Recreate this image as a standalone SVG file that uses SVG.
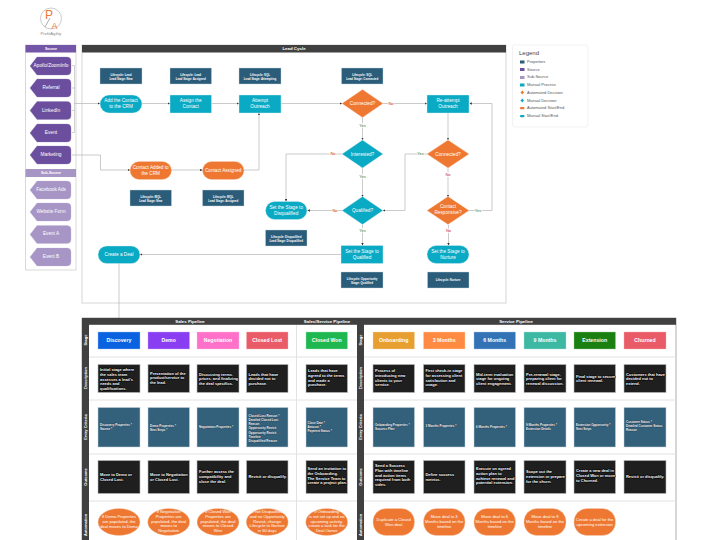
<svg xmlns="http://www.w3.org/2000/svg" width="720" height="540" viewBox="0 0 720 540">
<defs>
<marker id="ah" markerUnits="userSpaceOnUse" markerWidth="3" markerHeight="3" refX="2.4" refY="1.2" orient="auto"><path d="M0,0L2.4,1.2L0,2.4Z" fill="#333"/></marker>
</defs>
<style>
text{font-family:"Liberation Sans",Arial,sans-serif;text-anchor:middle}
.lbl{font-size:4.7px;fill:#fff}
.src{font-size:4.8px;fill:#fff}
.sub{font-size:4.7px;fill:#fff}
.proc{fill:#0aa9c4;stroke:#d8eef2;stroke-width:.4}
.auto{fill:#ee7831;stroke:#f6d2bb;stroke-width:.4}
.prop{fill:#2b5d7b;stroke:#c9d6de;stroke-width:.4}
.ptx{font-size:2.9px;fill:#fff;font-weight:700}
.hdr{fill:#404040}
.htx{font-size:4.4px;fill:#fff;font-weight:700}
.pur{fill:#6b4f9e;stroke:#8d78b5;stroke-width:.3}
.lpu{fill:#a795c6;stroke:#c5b9dc;stroke-width:.3}
.con{fill:none;stroke:#b4b4b4;stroke-width:.7;marker-end:url(#ah)}
.con0{fill:none;stroke:#b4b4b4;stroke-width:.6}
.y{font-size:4px;fill:#2e7d32;paint-order:stroke;stroke:#fff;stroke-width:1.4}
.n{font-size:4px;fill:#c62828;paint-order:stroke;stroke:#fff;stroke-width:1.4}
.leg{font-size:4px;fill:#555;text-anchor:start}
.st{font-size:5.2px;font-weight:700;fill:#fff}
.cell{fill:#1f1f1f;stroke:#b9b9b9;stroke-width:.6}
.ent{fill:#33617c;stroke:#c4d2da;stroke-width:.5}
.dtx{font-size:3.95px;font-weight:700;fill:#fff;text-anchor:start;paint-order:stroke;stroke:#000;stroke-width:.8}
.etx{font-size:3px;font-weight:700;fill:#fff;text-anchor:start;paint-order:stroke;stroke:#123;stroke-width:.3}
.atx{font-size:4.1px;fill:#fff}
.rot{font-size:4px;font-weight:700;fill:#fff}
.sep{stroke:#e2e2e2;stroke-width:1}
</style>
<rect width="720" height="540" fill="#fff"/>

<g id="logo">
<circle cx="51" cy="18.500" r="10.500" fill="#fff" stroke="#bcbcbc" stroke-width=".8"/>
<path d="M45,27L50,18" stroke="#777" stroke-width=".6" fill="none"/>
<text x="49" y="18.500" style="font-size:12px;fill:#ee7831">P</text>
<text x="54.500" y="28.500" style="font-size:9px;fill:#ee7831">A</text>
<text x="51" y="35" style="font-size:4.2px;fill:#888">ProfitAgility</text>
</g>

<g id="source-panel">
<rect x="25.500" y="45" width="50.500" height="225" fill="#fff" stroke="#c8c8c8" stroke-width=".7"/>
<rect x="25.500" y="45" width="50.500" height="7.500" fill="#7356a8"/>
<text x="51" y="50" class="ptx" style="font-size:3.6px">Source</text>
<rect x="25.500" y="169" width="50.500" height="8" fill="#a795c6"/>
<text x="51" y="174.300" class="ptx" style="font-size:3.6px">Sub-Source</text>
</g>

<g id="source-apollo"><path class="pur" d="M30,66L37,57H67a4,4 0 0 1 4,4V71a4,4 0 0 1-4,4H37Z"/><text x="51" y="67" class="src">Apollo/ZoomInfo</text></g>
<g id="source-referral"><path class="pur" d="M30,88L37,79H67a4,4 0 0 1 4,4V93a4,4 0 0 1-4,4H37Z"/><text x="51" y="89" class="src">Referral</text></g>
<g id="source-linkedin"><path class="pur" d="M30,110.500L37,101.500H67a4,4 0 0 1 4,4V115.500a4,4 0 0 1-4,4H37Z"/><text x="51" y="111.500" class="src">LinkedIn</text></g>
<g id="source-event"><path class="pur" d="M30,133L37,124H67a4,4 0 0 1 4,4V138a4,4 0 0 1-4,4H37Z"/><text x="51" y="133.500" class="src">Event</text></g>
<g id="source-marketing"><path class="pur" d="M30,155L37,146H67a4,4 0 0 1 4,4V160a4,4 0 0 1-4,4H37Z"/><text x="51" y="155.700" class="src">Marketing</text></g>
<g id="sub-facebook"><path class="lpu" d="M30,190L37,181H67a4,4 0 0 1 4,4V195a4,4 0 0 1-4,4H37Z"/><text x="51" y="190.500" class="sub">Facebook Ads</text></g>
<g id="sub-website"><path class="lpu" d="M30,212L37,203H67a4,4 0 0 1 4,4V217a4,4 0 0 1-4,4H37Z"/><text x="51" y="213" class="sub">Website Form</text></g>
<g id="sub-event-a"><path class="lpu" d="M30,234.500L37,225.500H67a4,4 0 0 1 4,4V239.500a4,4 0 0 1-4,4H37Z"/><text x="51" y="235.300" class="sub">Event A</text></g>
<g id="sub-event-b"><path class="lpu" d="M30,257L37,248H67a4,4 0 0 1 4,4V262a4,4 0 0 1-4,4H37Z"/><text x="51" y="257.500" class="sub">Event B</text></g>

<g id="lead-frame">
<rect x="82" y="45" width="424" height="258" fill="#fff" stroke="#dcdcdc" stroke-width="1.200"/>
<rect x="82" y="45" width="424" height="7.500" class="hdr"/>
<text x="294" y="50.200" class="htx">Lead Cycle</text>
</g>

<g id="connectors">
<path class="con0" d="M72,65.500H74.500V132.500H72M72,88H74.500M72,110.500H74.500"/>
<path class="con" d="M74.500,103.500H100"/>
<path class="con" d="M72,155H100.500V170H130"/>
<path class="con" d="M142,103.500H170"/>
<path class="con" d="M211.500,103.500H239"/>
<path class="con" d="M171,170H202.500"/>
<path class="con" d="M244,170H259V113"/>
<path class="con" d="M281,103.500H342"/>
<path class="con" d="M383,103.500H427"/>
<path class="con" d="M362.500,117V140"/>
<path class="con" d="M362.500,168V197"/>
<path class="con" d="M342,154H286V201.500"/>
<path class="con" d="M342,210.500H307.500"/>
<path class="con" d="M362.500,224.500V245.500"/>
<path class="con" d="M427,154H405V210.500H383"/>
<path class="con" d="M448,113V140"/>
<path class="con" d="M448,168V197"/>
<path class="con" d="M448.500,225V245.500"/>
<path class="con" d="M469,210.500H492V103.500H469.500"/>
<path class="con" d="M341,254.500H140"/>
<path class="con" d="M119,263V332"/>
<text x="391" y="104.500" class="n">No</text>
<text x="362.500" y="126.500" class="y">Yes</text>
<text x="333" y="155" class="n">No</text>
<text x="362.500" y="178" class="y">Yes</text>
<text x="335" y="211.500" class="n">No</text>
<text x="362.500" y="232" class="y">Yes</text>
<text x="420.500" y="155" class="y">Yes</text>
<text x="448" y="175.500" class="n">No</text>
<text x="478" y="211.500" class="y">Yes</text>
<text x="448.500" y="232" class="n">No</text>
</g>

<g id="prop-lead-new"><rect x="100" y="68" width="42" height="16" class="prop"/><text x="121" y="75.500" class="ptx">Lifecycle: Lead</text><text x="121" y="79.500" class="ptx">Lead Stage: New</text></g>
<g id="prop-lead-assigned"><rect x="170" y="68" width="41.500" height="16" class="prop"/><text x="190.700" y="75.500" class="ptx">Lifecycle: Lead</text><text x="190.700" y="79.500" class="ptx">Lead Stage: Assigned</text></g>
<g id="prop-sql-attempting"><rect x="239" y="68" width="42" height="16" class="prop"/><text x="260" y="75.500" class="ptx">Lifecycle: SQL</text><text x="260" y="79.500" class="ptx">Lead Stage: Attempting</text></g>
<g id="prop-sql-connected"><rect x="341.500" y="68" width="41.500" height="16" class="prop"/><text x="362.200" y="75.500" class="ptx">Lifecycle: SQL</text><text x="362.200" y="79.500" class="ptx">Lead Stage: Connected</text></g>

<g id="add-contact"><rect x="100" y="95" width="42" height="18" rx="9" class="proc"/><text x="121" y="102" class="lbl">Add the Contact</text><text x="121" y="107.800" class="lbl">to the CRM</text></g>
<g id="assign-contact"><rect x="170" y="95" width="41.500" height="18" class="proc"/><text x="190.700" y="102" class="lbl">Assign the</text><text x="190.700" y="107.800" class="lbl">Contact</text></g>
<g id="attempt-outreach"><rect x="239" y="95" width="42" height="18" class="proc"/><text x="260" y="102" class="lbl">Attempt</text><text x="260" y="107.800" class="lbl">Outreach</text></g>
<g id="connected-1"><path d="M342,103.500L362.500,89.500L383,103.500L362.500,117.500Z" class="auto"/><text x="362.500" y="105.200" class="lbl">Connected?</text></g>
<g id="re-attempt"><rect x="427" y="95" width="42" height="18" class="proc"/><text x="448" y="102" class="lbl">Re-attempt</text><text x="448" y="107.800" class="lbl">Outreach</text></g>
<g id="interested"><path d="M342,154L362.500,140L383,154L362.500,168Z" class="proc"/><text x="362.500" y="155.700" class="lbl">Interested?</text></g>
<g id="connected-2"><path d="M427,154L448,140L469,154L448,168Z" class="auto"/><text x="448" y="155.700" class="lbl">Connected?</text></g>
<g id="qualified"><path d="M342,210.500L362.500,196.500L383,210.500L362.500,224.500Z" class="proc"/><text x="362.500" y="212.200" class="lbl">Qualified?</text></g>
<g id="responsive"><path d="M427,210.500L448,196.500L469,210.500L448,224.500Z" class="auto"/><text x="448" y="207.800" class="lbl">Contact</text><text x="448" y="213.600" class="lbl">Responsive?</text></g>
<g id="contact-added"><rect x="130" y="161.500" width="41.500" height="18" rx="9" class="auto"/><text x="150.700" y="168.800" class="lbl">Contact Added to</text><text x="150.700" y="174.600" class="lbl">the CRM</text></g>
<g id="contact-assigned"><rect x="202.500" y="161.500" width="41.500" height="18" rx="9" class="auto"/><text x="223.200" y="171.500" class="lbl">Contact Assigned</text></g>
<g id="prop-mql-new"><rect x="130" y="190" width="41.500" height="16" class="prop"/><text x="150.700" y="197.500" class="ptx">Lifecycle: MQL</text><text x="150.700" y="201.500" class="ptx">Lead Stage: New</text></g>
<g id="prop-mql-assigned"><rect x="202.500" y="190" width="41.500" height="16" class="prop"/><text x="223.200" y="197.500" class="ptx">Lifecycle: MQL</text><text x="223.200" y="201.500" class="ptx">Lead Stage: Assigned</text></g>
<g id="set-disqualified"><rect x="265.500" y="201.500" width="41.500" height="18" rx="9" class="proc"/><text x="286.200" y="208.800" class="lbl">Set the Stage to</text><text x="286.200" y="214.800" class="lbl">Disqualified</text></g>
<g id="prop-disqualified"><rect x="265.500" y="230" width="41.500" height="16" class="prop"/><text x="286.200" y="237.500" class="ptx">Lifecycle: Disqualified</text><text x="286.200" y="241.500" class="ptx">Lead Stage: Disqualified</text></g>
<g id="set-qualified"><rect x="341" y="245.500" width="42" height="18" class="proc"/><text x="362" y="253" class="lbl">Set the Stage to</text><text x="362" y="258.800" class="lbl">Qualified</text></g>
<g id="prop-opportunity"><rect x="341" y="272" width="42" height="16" class="prop"/><text x="362" y="279.500" class="ptx">Lifecycle: Opportunity</text><text x="362" y="283.500" class="ptx">Stage: Qualified</text></g>
<g id="set-nurture"><rect x="427" y="245.500" width="42" height="18" rx="9" class="proc"/><text x="448" y="253" class="lbl">Set the Stage to</text><text x="448" y="258.800" class="lbl">Nurture</text></g>
<g id="prop-nurture"><rect x="427.500" y="272" width="41.500" height="16" class="prop"/><text x="448" y="281" class="ptx">Lifecycle: Nurture</text></g>
<g id="create-deal"><rect x="98" y="246" width="42" height="17.500" rx="8.700" class="proc"/><text x="119" y="255.500" class="lbl">Create a Deal</text></g>

<g id="legend">
<rect x="512.500" y="45" width="75.500" height="82" rx="2" fill="#fff" stroke="#ececec" stroke-width=".7"/>
<text x="519" y="55" style="font-size:6px;fill:#444;text-anchor:start">Legend</text>
<rect x="520" y="60.500" width="4.500" height="3" fill="#2b5d7b"/><text x="527" y="62.800" class="leg">Properties</text>
<rect x="520" y="68" width="4.500" height="3" fill="#6b4f9e"/><text x="527" y="70.500" class="leg">Source</text>
<rect x="520" y="76" width="4.500" height="3" fill="#a795c6"/><text x="527" y="78.300" class="leg">Sub-Source</text>
<rect x="520" y="83.500" width="4.500" height="3" fill="#0aa9c4"/><text x="527" y="86" class="leg">Manual Process</text>
<path d="M520.500,92.500L522.300,90.500L524,92.500L522.300,94.500Z" fill="#ee7831"/><text x="527" y="93.800" class="leg">Automated Decision</text>
<path d="M520.500,100.500L522.300,98.500L524,100.500L522.300,102.500Z" fill="#0aa9c4"/><text x="527" y="101.500" class="leg">Manual Decision</text>
<rect x="520" y="107" width="4.500" height="2.200" rx="1" fill="#ee7831"/><text x="527" y="109.300" class="leg">Automated Start/End</text>
<rect x="520" y="115" width="4.500" height="2.200" rx="1" fill="#0aa9c4"/><text x="527" y="117" class="leg">Manual Start/End</text>
</g>

<g id="pipeline-frame">
<rect x="82" y="318" width="594" height="230" fill="#fff" stroke="#777" stroke-width=".6"/>
<path class="sep" d="M89,357H676M89,400H676M89,454H676M89,501H676"/>
<path d="M296.500,325V540" stroke="#e2e2e2" stroke-width="1"/>
<rect x="82" y="318" width="594" height="6.800" class="hdr"/>
<rect x="82" y="318" width="7" height="222" class="hdr"/>
<rect x="357" y="318" width="7" height="222" class="hdr"/>
<text x="190" y="322.900" class="htx">Sales Pipeline</text>
<text x="327" y="322.900" class="htx">Sales/Service Pipeline</text>
<text x="516" y="322.900" class="htx">Service Pipeline</text>
<text transform="translate(87,340) rotate(-90)" class="rot">Stage</text>
<text transform="translate(87,378) rotate(-90)" class="rot">Description</text>
<text transform="translate(87,427) rotate(-90)" class="rot">Entry Criteria</text>
<text transform="translate(87,477) rotate(-90)" class="rot">Outcome</text>
<text transform="translate(87,525) rotate(-90)" class="rot">Automation</text>
<text transform="translate(362,340) rotate(-90)" class="rot">Stage</text>
<text transform="translate(362,378) rotate(-90)" class="rot">Description</text>
<text transform="translate(362,427) rotate(-90)" class="rot">Entry Criteria</text>
<text transform="translate(362,477) rotate(-90)" class="rot">Outcome</text>
<text transform="translate(362,525) rotate(-90)" class="rot">Automation</text>
</g>

<g id="stage-discovery"><rect x="98" y="332" width="42" height="17" fill="#0a62e0" stroke="#9fc0f0" stroke-width=".4"/><text x="119" y="342.300" class="st">Discovery</text></g>
<g id="stage-demo"><rect x="148" y="332" width="41.500" height="17" fill="#8a3ef2" stroke="#c7a8f5" stroke-width=".4"/><text x="168.700" y="342.300" class="st">Demo</text></g>
<g id="stage-negotiation"><rect x="197" y="332" width="42" height="17" fill="#ff70c8" stroke="#ffc0e6" stroke-width=".4"/><text x="218" y="342.300" class="st">Negotiation</text></g>
<g id="stage-closed-lost"><rect x="246.500" y="332" width="41.500" height="17" fill="#e95b66" stroke="#f4b3b8" stroke-width=".4"/><text x="267.200" y="342.300" class="st">Closed Lost</text></g>
<g id="stage-closed-won"><rect x="306" y="332" width="41.500" height="17" fill="#1fb750" stroke="#a5e3b9" stroke-width=".4"/><text x="326.700" y="342.300" class="st">Closed Won</text></g>
<g id="stage-onboarding"><rect x="373" y="332" width="41.500" height="17" fill="#e89f31" stroke="#f5d8a8" stroke-width=".4"/><text x="393.700" y="342.300" class="st">Onboarding</text></g>
<g id="stage-3-months"><rect x="423.500" y="332" width="41.500" height="17" fill="#ff8b42" stroke="#ffd0b0" stroke-width=".4"/><text x="444.200" y="342.300" class="st">3 Months</text></g>
<g id="stage-6-months"><rect x="474" y="332" width="41.500" height="17" fill="#3373b5" stroke="#a8c4e0" stroke-width=".4"/><text x="494.700" y="342.300" class="st">6 Months</text></g>
<g id="stage-9-months"><rect x="524" y="332" width="42" height="17" fill="#3db9a3" stroke="#aee2d8" stroke-width=".4"/><text x="545" y="342.300" class="st">9 Months</text></g>
<g id="stage-extension"><rect x="574" y="332" width="41.500" height="17" fill="#1a8012" stroke="#a0cc9c" stroke-width=".4"/><text x="594.700" y="342.300" class="st">Extension</text></g>
<g id="stage-churned"><rect x="624" y="332" width="42" height="17" fill="#e95b66" stroke="#f4b3b8" stroke-width=".4"/><text x="645" y="342.300" class="st">Churned</text></g>

<g id="descriptions">
<rect x="98" y="364.500" width="42" height="28" class="cell"/><text x="100" y="371" class="dtx">Initial stage where</text><text x="100" y="375.800" class="dtx">the sales team</text><text x="100" y="380.600" class="dtx">assesses a lead's</text><text x="100" y="385.400" class="dtx">needs and</text><text x="100" y="390.200" class="dtx">qualifications.</text>
<rect x="148" y="364.500" width="41.500" height="28" class="cell"/><text x="150" y="374.500" class="dtx">Presentation of the</text><text x="150" y="379.300" class="dtx">product/service to</text><text x="150" y="384.100" class="dtx">the lead.</text>
<rect x="197" y="364.500" width="42" height="28" class="cell"/><text x="199" y="375.500" class="dtx">Discussing terms,</text><text x="199" y="380.300" class="dtx">prices, and finalizing</text><text x="199" y="385.100" class="dtx">the deal specifics.</text>
<rect x="246.500" y="364.500" width="41.500" height="28" class="cell"/><text x="248.500" y="375.500" class="dtx">Leads that have</text><text x="248.500" y="380.300" class="dtx">decided not to</text><text x="248.500" y="385.100" class="dtx">purchase.</text>
<rect x="306" y="364.500" width="41.500" height="28" class="cell"/><text x="308" y="372" class="dtx">Leads that have</text><text x="308" y="376.800" class="dtx">agreed to the terms</text><text x="308" y="381.600" class="dtx">and made a</text><text x="308" y="386.400" class="dtx">purchase.</text>
<rect x="373" y="364.500" width="41.500" height="28" class="cell"/><text x="375" y="372" class="dtx">Process of</text><text x="375" y="376.800" class="dtx">introducing new</text><text x="375" y="381.600" class="dtx">clients to your</text><text x="375" y="386.400" class="dtx">service.</text>
<rect x="423.500" y="364.500" width="41.500" height="28" class="cell"/><text x="425.500" y="372" class="dtx">First check-in stage</text><text x="425.500" y="376.800" class="dtx">for assessing client</text><text x="425.500" y="381.600" class="dtx">satisfaction and</text><text x="425.500" y="386.400" class="dtx">usage.</text>
<rect x="474" y="364.500" width="41.500" height="28" class="cell"/><text x="476" y="375.500" class="dtx">Mid-term evaluation</text><text x="476" y="380.300" class="dtx">stage for ongoing</text><text x="476" y="385.100" class="dtx">client engagement.</text>
<rect x="524" y="364.500" width="42" height="28" class="cell"/><text x="526" y="375.500" class="dtx">Pre-renewal stage,</text><text x="526" y="380.300" class="dtx">preparing client for</text><text x="526" y="385.100" class="dtx">renewal discussion.</text>
<rect x="574" y="364.500" width="41.500" height="28" class="cell"/><text x="576" y="377.500" class="dtx">Final stage to secure</text><text x="576" y="382.300" class="dtx">client renewal.</text>
<rect x="624" y="364.500" width="42" height="28" class="cell"/><text x="626" y="375.500" class="dtx">Customers that have</text><text x="626" y="380.300" class="dtx">decided not to</text><text x="626" y="385.100" class="dtx">extend.</text>
</g>

<g id="entry-criteria">
<rect x="98" y="407.500" width="42" height="39.500" class="ent"/><text x="100" y="425.500" class="etx">Discovery Properties *</text><text x="100" y="429.500" class="etx">Source *</text>
<rect x="148" y="407.500" width="41.500" height="39.500" class="ent"/><text x="150" y="426.500" class="etx">Demo Properties *</text><text x="150" y="430.500" class="etx">Next Steps *</text>
<rect x="197" y="407.500" width="42" height="39.500" class="ent"/><text x="199" y="428" class="etx">Negotiation Properties *</text>
<rect x="246.500" y="407.500" width="41.500" height="39.500" class="ent"/><text x="248.500" y="416.500" class="etx">Closed Lost Reason *</text><text x="248.500" y="420.800" class="etx">Detailed Closed Lost</text><text x="248.500" y="425.100" class="etx">Reason</text><text x="248.500" y="429.400" class="etx">Opportunity Revisit</text><text x="248.500" y="433.700" class="etx">Opportunity Revisit</text><text x="248.500" y="438" class="etx">Timeline</text><text x="248.500" y="442.300" class="etx">Disqualified Reason</text>
<rect x="306" y="407.500" width="41.500" height="39.500" class="ent"/><text x="307.500" y="424" class="etx">Close Date *</text><text x="307.500" y="428" class="etx">Amount *</text><text x="307.500" y="432" class="etx">Payment Status *</text>
<rect x="373" y="407.500" width="41.500" height="39.500" class="ent"/><text x="375" y="426" class="etx">Onboarding Properties *</text><text x="375" y="430" class="etx">Success Plan</text>
<rect x="423.500" y="407.500" width="41.500" height="39.500" class="ent"/><text x="425.500" y="426.500" class="etx">3 Months Properties *</text>
<rect x="474" y="407.500" width="41.500" height="39.500" class="ent"/><text x="476" y="427.500" class="etx">6 Months Properties *</text>
<rect x="524" y="407.500" width="42" height="39.500" class="ent"/><text x="526" y="425.500" class="etx">9 Months Properties *</text><text x="526" y="429.500" class="etx">Extension Details</text>
<rect x="574" y="407.500" width="41.500" height="39.500" class="ent"/><text x="576" y="425.500" class="etx">Extension Opportunity *</text><text x="576" y="429.500" class="etx">Next Steps</text>
<rect x="624" y="407.500" width="42" height="39.500" class="ent"/><text x="626" y="423" class="etx">Customer Status *</text><text x="626" y="427" class="etx">Detailed Customer Status</text><text x="626" y="431" class="etx">Reason</text>
</g>

<g id="outcomes">
<rect x="98" y="460.500" width="42" height="33" class="cell"/><text x="100" y="476" class="dtx">Move to Demo or</text><text x="100" y="480.800" class="dtx">Closed Lost.</text>
<rect x="148" y="460.500" width="41.500" height="33" class="cell"/><text x="150" y="476" class="dtx">Move to Negotiation</text><text x="150" y="480.800" class="dtx">or Closed Lost.</text>
<rect x="197" y="460.500" width="42" height="33" class="cell"/><text x="199" y="473" class="dtx">Further assess the</text><text x="199" y="477.800" class="dtx">compatibility and</text><text x="199" y="482.600" class="dtx">close the deal.</text>
<rect x="246.500" y="460.500" width="41.500" height="33" class="cell"/><text x="248.500" y="477.500" class="dtx">Revisit or disqualify.</text>
<rect x="306" y="460.500" width="41.500" height="33" class="cell"/><text x="307.500" y="470" class="dtx">Send an invitation to</text><text x="307.500" y="474.800" class="dtx">the Onboarding.</text><text x="307.500" y="479.600" class="dtx">The Service Team to</text><text x="307.500" y="484.400" class="dtx">create a project plan.</text>
<rect x="373" y="460.500" width="41.500" height="33" class="cell"/><text x="375" y="467" class="dtx">Send a Success</text><text x="375" y="471.800" class="dtx">Plan with timeline</text><text x="375" y="476.600" class="dtx">and action items</text><text x="375" y="481.400" class="dtx">required from both</text><text x="375" y="486.200" class="dtx">sides.</text>
<rect x="423.500" y="460.500" width="41.500" height="33" class="cell"/><text x="425.500" y="476" class="dtx">Define success</text><text x="425.500" y="480.800" class="dtx">metrics.</text>
<rect x="474" y="460.500" width="41.500" height="33" class="cell"/><text x="476" y="470" class="dtx">Execute on agreed</text><text x="476" y="474.800" class="dtx">action plan to</text><text x="476" y="479.600" class="dtx">achieve renewal and</text><text x="476" y="484.400" class="dtx">potential extension.</text>
<rect x="524" y="460.500" width="42" height="33" class="cell"/><text x="526" y="473" class="dtx">Scope out the</text><text x="526" y="477.800" class="dtx">extension or prepare</text><text x="526" y="482.600" class="dtx">for the churn.</text>
<rect x="574" y="460.500" width="41.500" height="33" class="cell"/><text x="576" y="472" class="dtx">Create a new deal in</text><text x="576" y="476.800" class="dtx">Closed Won or move</text><text x="576" y="481.600" class="dtx">to Churned.</text>
<rect x="624" y="460.500" width="42" height="33" class="cell"/><text x="626" y="477.500" class="dtx">Revisit or disqualify.</text>
</g>

<g id="automations">
<ellipse cx="119" cy="522" rx="21" ry="13.500" class="auto"/><text x="119" y="518" class="atx">If Demo Properties</text><text x="119" y="522.800" class="atx">are populated, the</text><text x="119" y="527.600" class="atx">deal moves to Demo</text>
<ellipse cx="168.700" cy="522" rx="21" ry="13.500" class="auto"/><text x="168.700" y="513" class="atx">If Negotiation</text><text x="168.700" y="517.800" class="atx">Properties are</text><text x="168.700" y="522.600" class="atx">populated, the deal</text><text x="168.700" y="527.400" class="atx">moves to</text><text x="168.700" y="532.200" class="atx">Negotiation</text>
<ellipse cx="218" cy="522" rx="21" ry="13.500" class="auto"/><text x="218" y="513" class="atx">If Closed Won</text><text x="218" y="517.800" class="atx">Properties are</text><text x="218" y="522.600" class="atx">populated, the deal</text><text x="218" y="527.400" class="atx">moves to Closed</text><text x="218" y="532.200" class="atx">Won</text>
<ellipse cx="267.200" cy="522" rx="21" ry="13.500" class="auto"/><text x="267.200" y="513" class="atx">If not Disqualified</text><text x="267.200" y="517.800" class="atx">and no Opportunity</text><text x="267.200" y="522.600" class="atx">Revisit, change</text><text x="267.200" y="527.400" class="atx">Lifecycle to Nurture</text><text x="267.200" y="532.200" class="atx">in 60 days</text>
<ellipse cx="326.700" cy="522" rx="21" ry="13.500" class="auto"/><text x="326.700" y="513" class="atx">If Onboarding</text><text x="326.700" y="517.800" class="atx">is not set up and no</text><text x="326.700" y="522.600" class="atx">upcoming activity,</text><text x="326.700" y="527.400" class="atx">create a task for the</text><text x="326.700" y="532.200" class="atx">Deal Owner</text>
<rect x="373" y="508.500" width="41.500" height="27" rx="13" class="auto"/><text x="393.700" y="520.500" class="atx">Duplicate a Closed</text><text x="393.700" y="525.500" class="atx">Won deal</text>
<rect x="423.500" y="508.500" width="41.500" height="27" rx="13" class="auto"/><text x="444.200" y="518" class="atx">Move deal to 3</text><text x="444.200" y="522.800" class="atx">Months based on the</text><text x="444.200" y="527.600" class="atx">timeline</text>
<rect x="474" y="508.500" width="41.500" height="27" rx="13" class="auto"/><text x="494.700" y="518" class="atx">Move deal to 6</text><text x="494.700" y="522.800" class="atx">Months based on the</text><text x="494.700" y="527.600" class="atx">timeline</text>
<rect x="524" y="508.500" width="42" height="27" rx="13" class="auto"/><text x="545" y="518" class="atx">Move deal to 9</text><text x="545" y="522.800" class="atx">Months based on the</text><text x="545" y="527.600" class="atx">timeline</text>
<rect x="574" y="508.500" width="41.500" height="27" rx="13" class="auto"/><text x="594.700" y="520.500" class="atx">Create a deal for the</text><text x="594.700" y="525.500" class="atx">upcoming extension</text>
</g>
</svg>
